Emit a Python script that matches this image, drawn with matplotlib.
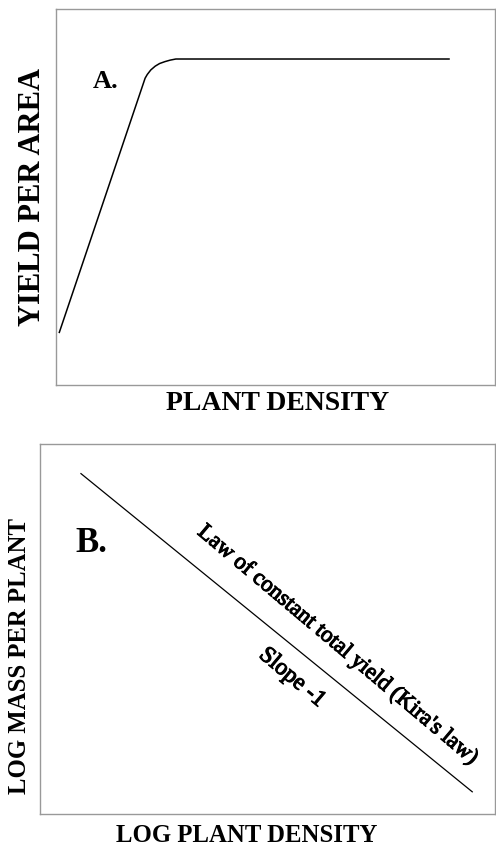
import matplotlib
matplotlib.use("Agg")
import matplotlib.pyplot as plt
import matplotlib.patheffects as pe

# Panel A: yield per area vs plant density (arbitrary units)
density_a = [0.7, 20.3, 20.8, 21.6, 22.6, 23.6, 24.8, 26.0, 27.3, 89.7]
yield_a = [13.8, 81.6, 82.6, 83.8, 84.8, 85.5, 86.0, 86.4, 86.7, 86.7]

# Panel B: log mass per plant vs log plant density (slope -1)
log_density_b = [9.0, 95.0]
log_mass_b = [92.0, 6.0]

plt.rcParams['font.family'] = ['Liberation Serif', 'DejaVu Serif']

fig = plt.figure(figsize=(4.96, 8.48), dpi=100)

def style_box(ax):
    ax.set_xlim(0, 100)
    ax.set_ylim(0, 100)
    ax.set_xticks([])
    ax.set_yticks([])
    for s in ax.spines.values():
        s.set_color('#999999')
        s.set_linewidth(1.0)

# ---- Panel A ----
ax1 = fig.add_axes([56/496, (848-385)/848, 439/496, 376/848])
style_box(ax1)
ax1.plot(density_a, yield_a, color='black', lw=1.1, solid_capstyle='butt',
         solid_joinstyle='round')
ax1.text(0.114, 0.806, 'A.', transform=ax1.transAxes, fontsize=19,
         fontweight='bold', ha='center', va='center')
ax1.set_xlabel('PLANT DENSITY', fontsize=20, fontweight='bold')
ax1.xaxis.set_label_coords((278-56)/439, (385-404)/376)
ax1.xaxis.label.set_va('center')
ax1.set_ylabel('YIELD PER AREA', fontsize=22, fontweight='bold')
ax1.yaxis.set_label_coords((33-56)/439, (385-197)/376)
ax1.yaxis.label.set_va('center')

# ---- Panel B ----
ax2 = fig.add_axes([40/496, (848-814)/848, 455/496, 370/848])
style_box(ax2)
ax2.plot(log_density_b, log_mass_b, color='black', lw=0.9)
ax2.text(0.114, 0.732, 'B.', transform=ax2.transAxes, fontsize=25,
         fontweight='bold', ha='center', va='center')
stroke = [pe.withStroke(linewidth=0.8, foreground='black')]
ax2.text(65.4, 45.7, "Law of constant total yield (Kira's law)", fontsize=16.5,
         rotation=-46, transform_rotates_text=True, rotation_mode='anchor',
         ha='center', va='center', path_effects=stroke)
ax2.text(55.4, 36.8, 'Slope -1', fontsize=17,
         rotation=-46, transform_rotates_text=True, rotation_mode='anchor',
         ha='center', va='center', path_effects=stroke)
ax2.set_xlabel('LOG PLANT DENSITY', fontsize=17.8, fontweight='bold')
ax2.xaxis.set_label_coords((247-40)/455, (814-835)/370)
ax2.xaxis.label.set_va('center')
ax2.set_ylabel('LOG MASS PER PLANT', fontsize=17.8, fontweight='bold')
ax2.yaxis.set_label_coords((20-40)/455, (814-656)/370)
ax2.yaxis.label.set_va('center')

fig.savefig('out.png', dpi=100)
